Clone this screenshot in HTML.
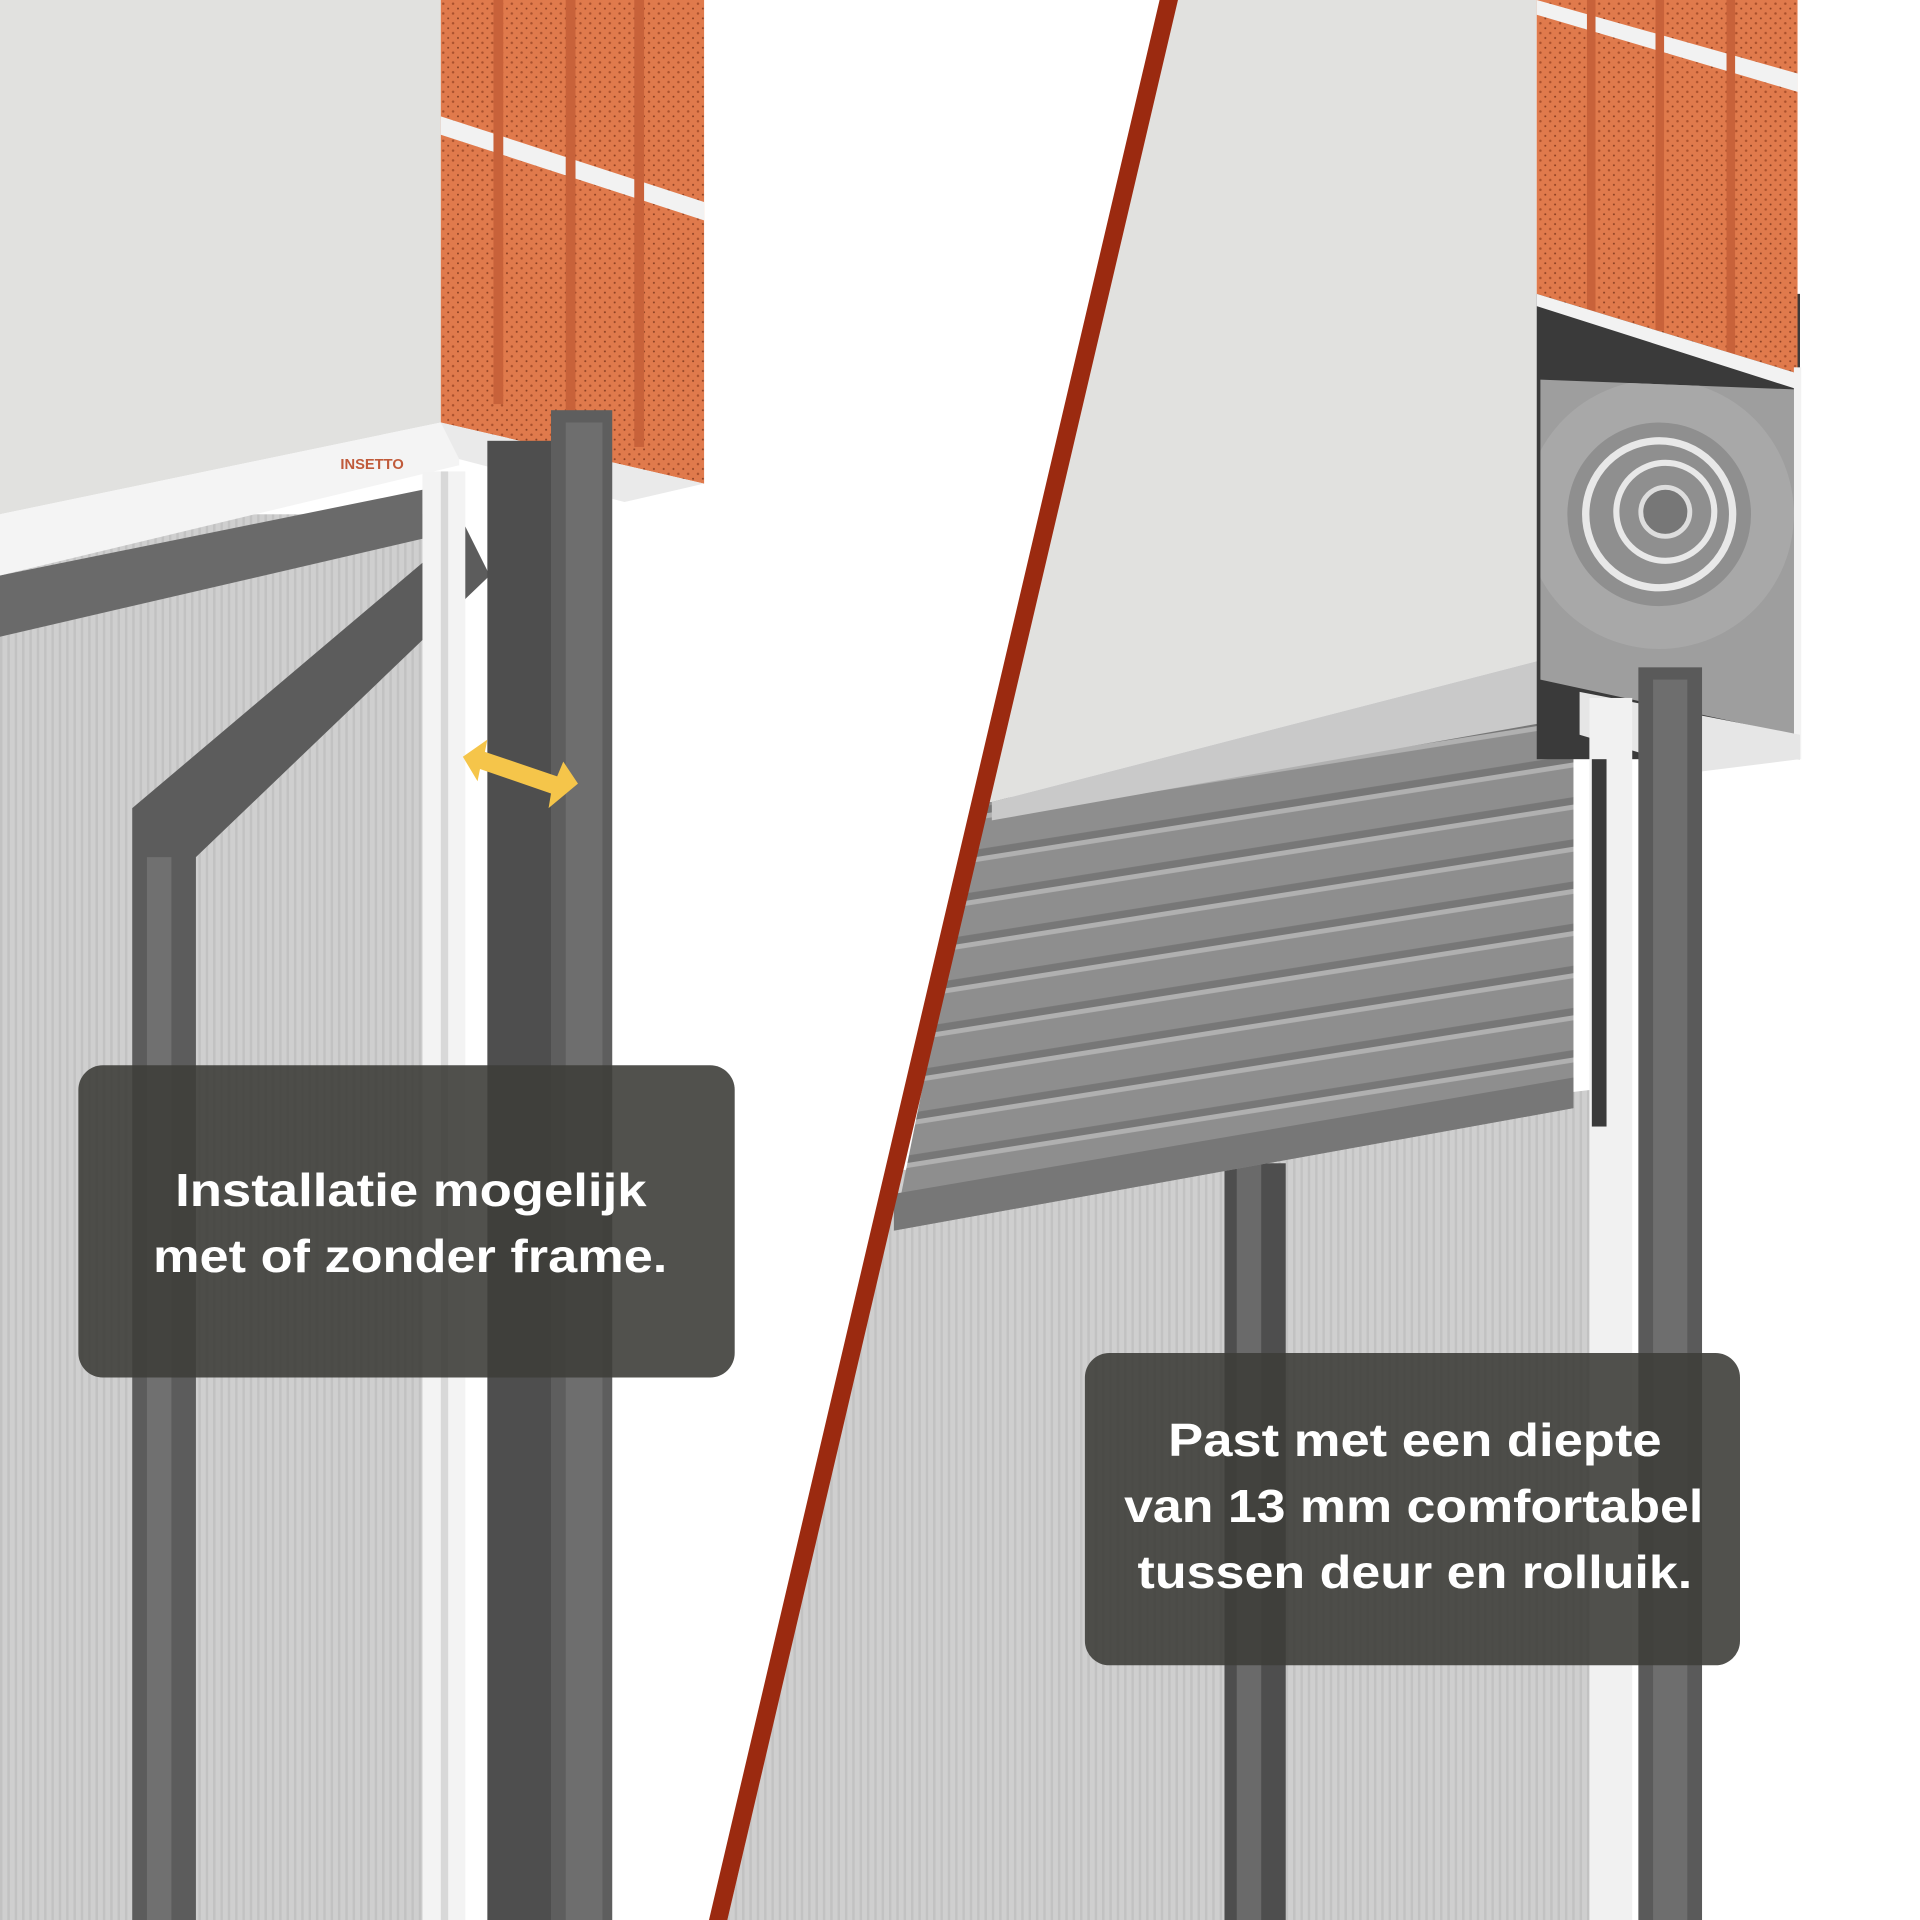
<!DOCTYPE html>
<html><head><meta charset="utf-8"><style>
html,body{margin:0;padding:0;background:#fff;}
svg{display:block;}
text{font-family:"Liberation Sans",sans-serif;font-weight:bold;fill:#fff;font-size:38px;}
</style></head><body>
<svg width="1920" height="1920" viewBox="0 0 1568 1568" xmlns="http://www.w3.org/2000/svg">
<defs>
<pattern id="mesh" width="6" height="6" patternUnits="userSpaceOnUse">
<rect width="6" height="6" fill="#cfcfcf"/><rect width="2" height="6" fill="#c2c2c2"/></pattern>
<pattern id="brick" width="8" height="8" patternUnits="userSpaceOnUse">
<rect width="8" height="8" fill="#e07a4c"/><circle cx="2" cy="3" r="1" fill="#a9502c"/><circle cx="6" cy="7" r="0.8" fill="#8a3f22"/></pattern>
<pattern id="slat" width="10" height="34" patternUnits="userSpaceOnUse" patternTransform="rotate(-9)">
<rect width="10" height="34" fill="#8e8e8e"/><rect y="0" width="10" height="4" fill="#b0b0b0"/><rect y="28" width="10" height="6" fill="#777"/></pattern>
<clipPath id="L"><polygon points="0,0 950,0 582,1568 0,1568"/></clipPath>
<clipPath id="R"><polygon points="960,0 1568,0 1568,1568 594,1568"/></clipPath>
<clipPath id="box"><polygon points="1258,310 1465,318 1465,600 1258,555"/></clipPath>
</defs>
<rect width="1568" height="1568" fill="#fff"/>
<g clip-path="url(#L)">
 <rect x="0" y="420" width="350" height="1148" fill="url(#mesh)"/>
 <polygon points="0,470 345,400 345,440 0,520" fill="#6a6a6a"/>
 <polygon points="0,0 360,0 360,345 0,420" fill="#e1e1df"/>
 <polygon points="0,420 360,345 375,345 375,380 0,470" fill="#f4f4f4"/>
 <polygon points="360,0 575,0 575,395 360,345" fill="url(#brick)"/>
 <polygon points="360,95 575,165 575,180 360,110" fill="#f2f2f2"/>
 <rect x="403" y="0" width="8" height="330" fill="#c8623a"/><rect x="462" y="0" width="8" height="345" fill="#c8623a"/><rect x="518" y="0" width="8" height="365" fill="#c8623a"/>
 <polygon points="360,345 575,395 510,410 375,375" fill="#eaeaea"/>
 <polygon points="108,660 380,430 400,470 160,700 160,1568 108,1568" fill="#5c5c5c"/>
 <rect x="120" y="700" width="20" height="868" fill="#707070"/>
 <rect x="345" y="385" width="35" height="1183" fill="#f3f3f3"/>
 <rect x="360" y="385" width="6" height="1183" fill="#d8d8d8"/>
 <rect x="398" y="360" width="60" height="1208" fill="#4e4e4e"/>
 <rect x="450" y="335" width="50" height="1233" fill="#5e5e5e"/>
 <rect x="462" y="345" width="30" height="1223" fill="#6e6e6e"/>
 <polygon points="378,618 398,604 396,614 455,634 460,622 472,640 448,660 450,648 392,628 390,638" fill="#f5c54a"/>
 <text x="278" y="383" style="font-size:12px;fill:#c05a3a">INSETTO</text>
</g>
<g clip-path="url(#R)">
 <polygon points="700,960 1300,890 1300,1568 560,1568" fill="url(#mesh)"/>
 <rect x="1000" y="950" width="50" height="618" fill="#4e4e4e"/>
 <rect x="1010" y="950" width="20" height="618" fill="#6a6a6a"/>
 <polygon points="800,655 1285,580 1285,905 730,1005" fill="url(#slat)"/>
 <polygon points="730,975 1285,880 1285,905 730,1005" fill="#777"/>
 <polygon points="955,0 1255,0 1255,540 810,655 780,655" fill="#e1e1df"/>
 <polygon points="810,655 1255,540 1290,560 1290,585 810,670" fill="#c9c9c9"/>
 <rect x="1255" y="240" width="215" height="380" fill="#3a3a3a"/>
 <polygon points="1258,310 1465,318 1465,600 1258,555" fill="#9e9e9e"/>
 <g clip-path="url(#box)">
 <circle cx="1355" cy="420" r="110" fill="#a8a8a8"/>
 <circle cx="1355" cy="420" r="75" fill="#8f8f8f"/>
 <circle cx="1355" cy="420" r="60" fill="none" stroke="#e8e8e8" stroke-width="6"/>
 <circle cx="1360" cy="418" r="40" fill="none" stroke="#e8e8e8" stroke-width="5"/>
 <circle cx="1360" cy="418" r="20" fill="#777" stroke="#ddd" stroke-width="4"/>
 </g>
 <polygon points="1255,0 1468,0 1468,305 1255,240" fill="url(#brick)"/>
 <polygon points="1255,0 1468,60 1468,75 1255,12" fill="#f2f2f2"/>
 <rect x="1296" y="0" width="7" height="255" fill="#c8623a"/><rect x="1352" y="0" width="7" height="270" fill="#c8623a"/><rect x="1410" y="0" width="7" height="290" fill="#c8623a"/>
 <polygon points="1255,240 1468,305 1468,318 1255,250" fill="#f2f2f2"/>
 <rect x="1465" y="300" width="6" height="320" fill="#f2f2f2"/>
 <polygon points="1290,565 1470,600 1470,620 1390,630 1290,600" fill="#e6e6e6"/>
 <rect x="1298" y="570" width="35" height="998" fill="#f1f1f1"/>
 <rect x="1300" y="620" width="12" height="300" fill="#3a3a3a"/>
 <rect x="1338" y="545" width="52" height="1023" fill="#5a5a5a"/>
 <rect x="1350" y="555" width="28" height="1013" fill="#6e6e6e"/>
</g>
<polygon points="947,0 962,0 594,1568 579,1568" fill="#9b2a10"/>
<rect x="64" y="870" width="536" height="255" rx="20" fill="#3e3e3a" fill-opacity="0.9"/>
<text x="143" y="985" textLength="385" lengthAdjust="spacingAndGlyphs">Installatie mogelijk</text>
<text x="125" y="1039" textLength="420" lengthAdjust="spacingAndGlyphs">met of zonder frame.</text>
<rect x="886" y="1105" width="535" height="255" rx="20" fill="#3e3e3a" fill-opacity="0.9"/>
<text x="954" y="1189" textLength="403" lengthAdjust="spacingAndGlyphs">Past met een diepte</text>
<text x="918" y="1243" textLength="473" lengthAdjust="spacingAndGlyphs">van 13 mm comfortabel</text>
<text x="929" y="1297" textLength="453" lengthAdjust="spacingAndGlyphs">tussen deur en rolluik.</text>
</svg>
</body></html>
